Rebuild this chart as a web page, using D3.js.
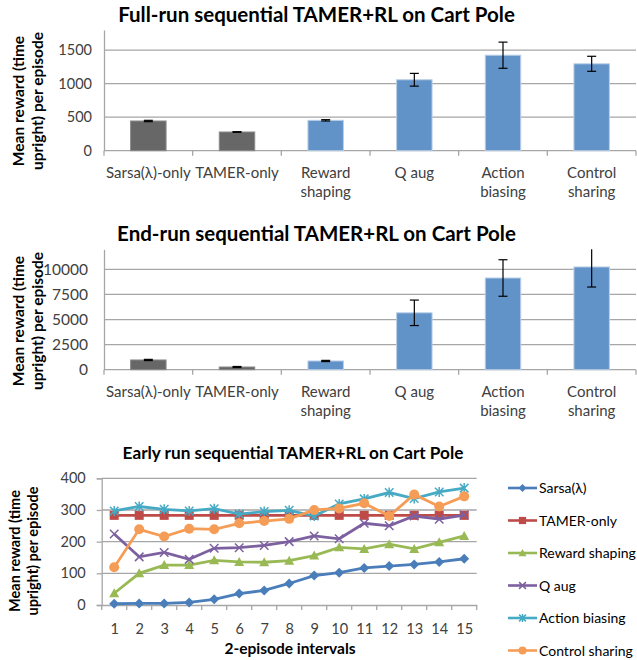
<!DOCTYPE html>
<html>
<head>
  <meta charset="utf-8">
  <script src="https://d3js.org/d3.v7.min.js"></script>
  <style>
    body { margin: 0; background: #fff; }
    text { font-family: Lato, "Open Sans", sans-serif; }
  </style>
</head>
<body>
<script>
  // bar chart categories
  const methods = ["Sarsa(λ)-only", "TAMER-only", "Reward shaping", "Q aug", "Action biasing", "Control sharing"];
  const methodLines = [["Sarsa(λ)-only"], ["TAMER-only"], ["Reward", "shaping"], ["Q aug"], ["Action", "biasing"], ["Control", "sharing"]];

  // full-run means and error half-widths
  const fullMean = [443, 279, 453, 1058, 1424, 1296];
  const fullErr = [10, 5, 10, 95, 195, 112];

  // end-run means and error half-widths
  const endMean = [970, 270, 870, 5670, 9140, 10240];
  const endErr = [60, 50, 60, 1270, 1820, 2000];

  // early run line chart
  const intervals = d3.range(1, 16);
  const seriesNames = ["Sarsa(λ)", "TAMER-only", "Reward shaping", "Q aug", "Action biasing", "Control sharing"];
  const sarsa = [4, 5, 5, 8, 18, 36, 46, 68, 93, 102, 117, 123, 128, 136, 146];
  const tamer = [283, 283, 283, 283, 283, 283, 283, 283, 283, 283, 283, 283, 283, 283, 283];
  const rewardShaping = [37, 100, 126, 126, 141, 136, 135, 140, 156, 182, 177, 192, 177, 198, 218];
  const qAug = [224, 152, 166, 144, 179, 181, 188, 200, 218, 209, 258, 250, 281, 271, 284];
  const actionBiasing = [297, 311, 302, 297, 304, 287, 295, 299, 281, 319, 335, 355, 336, 357, 369];
  const controlSharing = [119, 239, 216, 241, 239, 258, 265, 272, 300, 305, 321, 281, 349, 311, 343];

  const seriesColors = ["#4a7ebb", "#be4b48", "#98b954", "#7d60a0", "#46aac5", "#f59d56"];
  const seriesMarkers = ["diamond", "square", "triangle", "x", "asterisk", "circle"];

  const svg = d3.select("body").append("svg")
    .attr("width", 637)
    .attr("height", 660);

  const gridColor = "#a6a6a6";
  const tickColor = "#404040";

  function yTitle(cy, size, b1, b2) {
    const t = svg.append("text")
      .attr("transform", "translate(0," + cy + ") rotate(-90)")
      .attr("text-anchor", "middle")
      .style("font-weight", "bold")
      .style("font-size", size + "px")
      .attr("fill", "#000");
    t.append("tspan").attr("x", 0).attr("y", b1).text("Mean reward (time");
    t.append("tspan").attr("x", 0).attr("y", b2).text("upright) per episode");
  }

  function title(x, y, size, txt) {
    svg.append("text")
      .attr("x", x).attr("y", y)
      .attr("text-anchor", "middle")
      .style("font-weight", "bold")
      .style("font-size", size + "px")
      .text(txt);
  }

  const bx0 = 104, bx1 = 636;

  function barChart(opts) {
    const x = d3.scaleBand().domain(methods).range([bx0, bx1]);
    const y = d3.scaleLinear().domain([0, opts.max]).range([opts.bottom, opts.top]);
    const g = svg.append("g");

    // gridlines
    g.selectAll(".grid").data(opts.ticks.filter(d => d > 0)).enter().append("line")
      .attr("x1", bx0).attr("x2", bx1)
      .attr("y1", d => y(d)).attr("y2", d => y(d))
      .attr("stroke", gridColor).attr("stroke-width", 1.3);

    // y axis
    const yAxis = g.append("g").attr("transform", "translate(" + bx0 + ",0)")
      .call(d3.axisLeft(y).tickValues(opts.ticks).tickSize(0).tickPadding(opts.pad).tickFormat(d3.format("d")));
    yAxis.select(".domain").attr("stroke", gridColor).attr("stroke-width", 1.3);
    yAxis.selectAll("text").style("font-size", opts.tickSize + "px").attr("fill", tickColor).attr("font-family", null);

    // x axis
    g.append("line").attr("x1", bx0).attr("x2", bx1)
      .attr("y1", opts.bottom).attr("y2", opts.bottom)
      .attr("stroke", gridColor).attr("stroke-width", 1.3);
    g.selectAll(".xt").data(d3.range(methods.length + 1)).enter().append("line")
      .attr("x1", i => bx0 + i * x.step()).attr("x2", i => bx0 + i * x.step())
      .attr("y1", opts.bottom).attr("y2", opts.bottom + 5)
      .attr("stroke", gridColor).attr("stroke-width", 1.3);

    const bw = x.bandwidth() * 0.4;
    g.selectAll(".bar").data(opts.mean).enter().append("rect")
      .attr("x", (d, i) => x(methods[i]) + x.bandwidth() / 2 - bw / 2)
      .attr("y", d => y(d))
      .attr("width", bw)
      .attr("height", d => opts.bottom - y(d))
      .attr("fill", (d, i) => i < 2 ? "#676767" : "#6193c8")
      .attr("stroke", (d, i) => i < 2 ? "#8a8a8a" : "#b9cfe8")
      .attr("stroke-width", 1);

    // error bars
    const eb = g.selectAll(".err").data(opts.mean).enter().append("g")
      .attr("transform", (d, i) => "translate(" + (x(methods[i]) + x.bandwidth() / 2) + ",0)");
    eb.append("line")
      .attr("y1", (d, i) => Math.max(y(d + opts.err[i]), opts.top))
      .attr("y2", (d, i) => y(d - opts.err[i]))
      .attr("stroke", "#000").attr("stroke-width", 1.2);
    eb.append("line").attr("x1", -4.5).attr("x2", 4.5)
      .attr("y1", (d, i) => y(d + opts.err[i])).attr("y2", (d, i) => y(d + opts.err[i]))
      .attr("stroke", "#000").attr("stroke-width", 1.2)
      .style("display", (d, i) => y(d + opts.err[i]) < opts.top ? "none" : null);
    eb.append("line").attr("x1", -4.5).attr("x2", 4.5)
      .attr("y1", (d, i) => y(d - opts.err[i])).attr("y2", (d, i) => y(d - opts.err[i]))
      .attr("stroke", "#000").attr("stroke-width", 1.2);

    // category labels
    const lab = g.selectAll(".cat").data(methodLines).enter().append("text")
      .attr("text-anchor", "middle")
      .style("font-size", "15px")
      .attr("fill", tickColor);
    lab.each(function (lines, i) {
      const cx = x(methods[i]) + x.bandwidth() / 2;
      d3.select(this).selectAll("tspan").data(lines).enter().append("tspan")
        .attr("x", cx)
        .attr("y", (l, j) => opts.bottom + 27.5 + j * 18.5)
        .text(l => l);
    });
  }

  // Chart 1
  title(316.5, 22, 20.5, "Full-run sequential TAMER+RL on Cart Pole");
  yTitle(101, 15.5, 24, 43);
  barChart({ mean: fullMean, err: fullErr, max: 1800, top: 30, bottom: 150.7,
    ticks: [0, 500, 1000, 1500], tickSize: 14.5, pad: 12 });

  // Chart 2
  title(316.5, 241, 20.5, "End-run sequential TAMER+RL on Cart Pole");
  yTitle(321, 15.5, 24, 43);
  barChart({ mean: endMean, err: endErr, max: 12000, top: 249.3, bottom: 369.7,
    ticks: [0, 2500, 5000, 7500, 10000], tickSize: 15.5, pad: 16 });

  // Chart 3
  title(293, 459, 17.2, "Early run sequential TAMER+RL on Cart Pole");
  yTitle(551, 14.5, 20, 38);

  const lx = d3.scalePoint().domain(intervals).range([101.7, 476.7]).padding(0.5);
  const ly = d3.scaleLinear().domain([0, 400]).range([605, 478.3]);
  const g3 = svg.append("g");

  g3.selectAll(".grid").data([100, 200, 300, 400]).enter().append("line")
    .attr("x1", 101.7).attr("x2", 476.7)
    .attr("y1", d => ly(d)).attr("y2", d => ly(d))
    .attr("stroke", gridColor).attr("stroke-width", 1.3);

  const ly3 = g3.append("g").attr("transform", "translate(101.7,0)")
    .call(d3.axisLeft(ly).tickValues([0, 100, 200, 300, 400]).tickSize(5).tickPadding(11));
  ly3.select(".domain").attr("stroke", gridColor).attr("stroke-width", 1.3);
  ly3.selectAll(".tick line").attr("stroke", gridColor).attr("stroke-width", 1.3);
  ly3.selectAll("text").style("font-size", "14.5px").attr("fill", tickColor).attr("font-family", null);

  const lxAxis = g3.append("g").attr("transform", "translate(0,605)")
    .call(d3.axisBottom(lx).tickSize(0).tickPadding(19));
  lxAxis.select(".domain").attr("stroke", gridColor).attr("stroke-width", 1.3);
  lxAxis.selectAll("text").style("font-size", "14.5px").attr("fill", tickColor).attr("font-family", null);
  g3.selectAll(".xt").data(d3.range(16)).enter().append("line")
    .attr("x1", i => 101.7 + i * lx.step()).attr("x2", i => 101.7 + i * lx.step())
    .attr("y1", 605).attr("y2", 610)
    .attr("stroke", gridColor).attr("stroke-width", 1.3);

  svg.append("text").attr("x", 290).attr("y", 654)
    .attr("text-anchor", "middle")
    .style("font-weight", "bold").style("font-size", "15.5px")
    .text("2-episode intervals");

  function marker(sel, type, color, s) {
    if (type === "diamond") {
      sel.append("path").attr("d", `M0,${-s}L${s},0L0,${s}L${-s},0Z`).attr("fill", color);
    } else if (type === "square") {
      sel.append("rect").attr("x", -s * 0.9).attr("y", -s * 0.9).attr("width", s * 1.8).attr("height", s * 1.8).attr("fill", color);
    } else if (type === "triangle") {
      sel.append("path").attr("d", `M0,${-s}L${s},${s * 0.8}L${-s},${s * 0.8}Z`).attr("fill", color);
    } else if (type === "circle") {
      sel.append("circle").attr("r", s).attr("fill", color);
    } else if (type === "x") {
      const k = s * 0.85;
      sel.append("path").attr("d", `M${-k},${-k}L${k},${k}M${-k},${k}L${k},${-k}`)
        .attr("stroke", color).attr("stroke-width", 1.5);
    } else if (type === "asterisk") {
      const k = s * 0.85;
      sel.append("path").attr("d", `M${-k},${-k}L${k},${k}M${-k},${k}L${k},${-k}M0,${-s}L0,${s}`)
        .attr("stroke", color).attr("stroke-width", 1.5);
    }
  }

  const allSeries = [sarsa, tamer, rewardShaping, qAug, actionBiasing, controlSharing];
  const line = d3.line().x((d, i) => lx(intervals[i])).y(d => ly(d));

  allSeries.forEach((vals, si) => {
    const c = seriesColors[si];
    g3.append("path").datum(vals)
      .attr("d", line)
      .attr("fill", "none")
      .attr("stroke", c)
      .attr("stroke-width", 2.8);
    vals.forEach((v, i) => {
      const m = g3.append("g").attr("transform", "translate(" + lx(intervals[i]) + "," + ly(v) + ")");
      marker(m, seriesMarkers[si], c, 5);
    });
  });

  // legend
  const legend = svg.append("g");
  seriesNames.forEach((name, i) => {
    const yy = 488 + i * 32.5;
    const c = seriesColors[i];
    legend.append("line").attr("x1", 508).attr("x2", 537).attr("y1", yy).attr("y2", yy)
      .attr("stroke", c).attr("stroke-width", 2.6);
    const m = legend.append("g").attr("transform", "translate(522.5," + yy + ")");
    marker(m, seriesMarkers[i], c, 4);
    legend.append("text").attr("x", 539).attr("y", yy + 5)
      .style("font-size", "14px").attr("fill", "#000")
      .text(name);
  });
</script>
</body>
</html>
